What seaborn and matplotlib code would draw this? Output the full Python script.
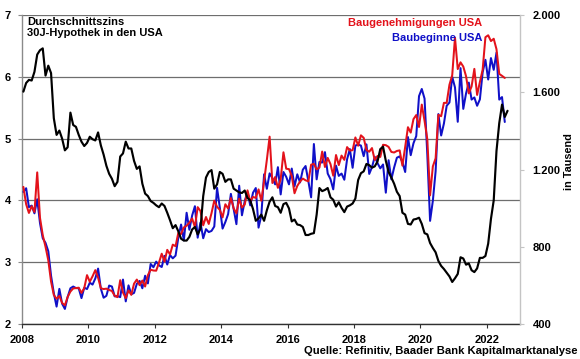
import numpy as np
import pandas as pd
import matplotlib
matplotlib.use("Agg")
import matplotlib.pyplot as plt
import seaborn as sns
from matplotlib.ticker import FuncFormatter

# ---------------- data (monthly, Jan 2008 ...) ----------------
starts = [
    1084, 1103, 1005, 1013, 973, 1046, 923, 844, 820, 777, 650, 560,
    490, 582, 505, 478, 540, 585, 594, 586, 585, 534, 588, 581,
    614, 604, 636, 687, 583, 536, 546, 599, 594, 543, 545, 539,
    630, 517, 600, 554, 561, 608, 623, 585, 650, 610, 711, 694,
    723, 704, 695, 753, 708, 757, 740, 754, 847, 915, 833, 976,
    888, 962, 1010, 847, 925, 844, 891, 876, 882, 905, 1105, 1003,
    894, 928, 969, 1074, 997, 917, 1116, 963, 1036, 1084, 1014, 1080,
    1104, 899, 962, 1175, 1100, 1180, 1155, 1123, 1212, 1071, 1187, 1162,
    1123, 1205, 1113, 1175, 1133, 1199, 1218, 1140, 1056, 1332, 1149, 1239,
    1236, 1290, 1179, 1150, 1097, 1220, 1167, 1179, 1147, 1253, 1306, 1209,
    1324, 1329, 1324, 1269, 1330, 1177, 1212, 1266, 1233, 1206, 1226, 1080,
    1248, 1149, 1210, 1261, 1268, 1238, 1187, 1368, 1274, 1336, 1373, 1580,
    1617, 1567, 1276, 934, 1038, 1191, 1487, 1376, 1438, 1530, 1547, 1680,
    1625, 1447, 1725, 1514, 1594, 1650, 1562, 1573, 1530, 1563, 1703, 1768,
    1666, 1777, 1716, 1805, 1562, 1575, 1446,
]
permits = [
    1110, 1020, 975, 1010, 980, 1185, 950, 860, 800, 730, 620, 550,
    531, 545, 509, 497, 540, 568, 584, 586, 588, 561, 586, 653,
    619, 647, 679, 640, 585, 581, 583, 576, 571, 546, 539, 627,
    563, 534, 574, 551, 609, 630, 601, 625, 594, 653, 681, 677,
    676, 717, 764, 723, 784, 760, 811, 803, 872, 866, 900, 909,
    925, 946, 902, 1005, 985, 911, 954, 918, 974, 1039, 1007, 991,
    952, 1020, 998, 1052, 999, 973, 1049, 1003, 1018, 1092, 1035, 1058,
    1053, 1097, 1038, 1140, 1250, 1370, 1130, 1161, 1105, 1150, 1289, 1204,
    1202, 1167, 1077, 1115, 1138, 1153, 1144, 1139, 1225, 1229, 1201, 1210,
    1293, 1213, 1260, 1228, 1168, 1275, 1223, 1272, 1250, 1316, 1298, 1300,
    1366, 1323, 1377, 1364, 1301, 1292, 1311, 1249, 1270, 1265, 1328, 1326,
    1317, 1291, 1288, 1296, 1299, 1220, 1317, 1419, 1391, 1461, 1482, 1420,
    1536, 1452, 1356, 1066, 1216, 1258, 1483, 1476, 1545, 1545, 1639, 1688,
    1883, 1720, 1755, 1733, 1683, 1594, 1630, 1721, 1586, 1653, 1717, 1885,
    1895, 1865, 1877, 1823, 1695, 1685, 1674,
]
rate = [
    5.76, 5.90, 5.95, 5.94, 6.08, 6.36, 6.43, 6.46, 6.02, 6.18, 6.06, 5.33,
    5.06, 5.13, 5.00, 4.81, 4.86, 5.42, 5.22, 5.19, 5.06, 4.95, 4.88, 4.93,
    5.03, 4.99, 4.97, 5.10, 4.89, 4.74, 4.56, 4.43, 4.35, 4.23, 4.30, 4.71,
    4.76, 4.95, 4.84, 4.84, 4.64, 4.51, 4.55, 4.27, 4.11, 4.07, 3.99, 3.96,
    3.92, 3.89, 3.95, 3.91, 3.80, 3.68, 3.55, 3.60, 3.50, 3.38, 3.35, 3.35,
    3.41, 3.53, 3.57, 3.45, 3.54, 4.07, 4.37, 4.46, 4.49, 4.19, 4.26, 4.46,
    4.43, 4.30, 4.34, 4.34, 4.19, 4.16, 4.13, 4.12, 4.16, 4.04, 4.00, 3.86,
    3.67, 3.71, 3.77, 3.67, 3.84, 3.98, 4.05, 3.91, 3.89, 3.80, 3.94, 3.96,
    3.87, 3.66, 3.69, 3.61, 3.60, 3.57, 3.44, 3.44, 3.46, 3.47, 3.77, 4.20,
    4.15, 4.17, 4.20, 4.05, 4.01, 3.90, 3.97, 3.88, 3.81, 3.90, 3.92, 3.95,
    4.03, 4.33, 4.44, 4.47, 4.59, 4.57, 4.53, 4.55, 4.63, 4.83, 4.87, 4.64,
    4.46, 4.37, 4.27, 4.14, 4.07, 3.80, 3.77, 3.62, 3.61, 3.69, 3.70, 3.72,
    3.62, 3.47, 3.45, 3.31, 3.23, 3.16, 3.02, 2.94, 2.89, 2.83, 2.77, 2.68,
    2.74, 2.81, 3.08, 3.06, 2.96, 2.98, 2.87, 2.84, 2.90, 3.07, 3.07, 3.10,
    3.30, 3.70, 4.00, 4.80, 5.25, 5.55, 5.35, 5.45,
]
start_year = 2008
x_ticks = [2008, 2010, 2012, 2014, 2016, 2018, 2020, 2022]
left_ticks = [2, 3, 4, 5, 6, 7]
right_ticks = [400, 800, 1200, 1600, 2000]

title_left = "Durchschnittszins\n30J-Hypothek in den USA"
label_permits = "Baugenehmigungen USA"
label_starts = "Baubeginne USA"
right_label = "in Tausend"
source = "Quelle: Refinitiv, Baader Bank Kapitalmarktanalyse"

# month positions (mid-month)
def months(n):
    return [start_year + (i + 0.5) / 12 for i in range(n)]

df_h = pd.DataFrame({"t": months(len(starts)), "starts": starts, "permits": permits})
df_r = pd.DataFrame({"t": months(len(rate)), "rate": rate})

# ---------------- styling ----------------
sns.set_theme(style="white")
plt.rcParams["font.family"] = ["Liberation Sans", "DejaVu Sans"]
plt.rcParams["font.weight"] = "bold"

W, H = 580, 359
fig = plt.figure(figsize=(W / 100, H / 100), dpi=100)
L, R, T, B = 22, 520, 15, 324
ax = fig.add_axes([L / W, (H - B) / H, (R - L) / W, (B - T) / H])
ax1 = ax.twinx()   # housing (right scale)
ax2 = ax.twinx()   # mortgage rate (left scale), drawn on top

RED = "#e3121b"
BLUE = "#1010c8"

sns.lineplot(data=df_h, x="t", y="starts", ax=ax1, color=BLUE, lw=1.45, legend=False)
sns.lineplot(data=df_h, x="t", y="permits", ax=ax1, color=RED, lw=1.45, legend=False)
sns.lineplot(data=df_r, x="t", y="rate", ax=ax2, color="black", lw=1.55, legend=False)

for a in (ax, ax1, ax2):
    a.set_xlim(2008, 2023)
    a.set_xlabel("")
    a.set_ylabel("")

ax.set_ylim(2, 7)
ax2.set_ylim(2, 7)
ax1.set_ylim(400, 2000)

# primary axis: left ticks, grid, x ticks
ax.set_yticks(left_ticks)
ax.set_yticklabels([str(v) for v in left_ticks])
ax.set_xticks(x_ticks)
ax.set_xticklabels([str(v) for v in x_ticks])
ax.grid(axis="y", color="#6e6e6e", lw=0.9)
ax.grid(axis="x", visible=False)
ax.set_axisbelow(True)
for s in ("top", "right"):
    ax.spines[s].set_visible(False)
ax.spines["left"].set_color("#8a8a8a")
ax.spines["left"].set_linewidth(1.0)
ax.spines["bottom"].set_color("#303030")
ax.spines["bottom"].set_linewidth(1.0)
ax.tick_params(axis="y", which="major", direction="out", length=3, width=0.8,
               color="#8a8a8a", pad=5, labelsize=8, labelcolor="black", left=True)
ax.tick_params(axis="x", which="major", direction="out", length=3, width=0.8,
               color="#303030", pad=5, labelsize=8, labelcolor="black", bottom=True)
for lab in ax.get_xticklabels() + ax.get_yticklabels():
    lab.set_fontweight("bold")

# right axis
ax1.set_yticks(right_ticks)
ax1.yaxis.set_major_formatter(FuncFormatter(lambda v, p: f"{int(v):,}".replace(",", ".")))
for s in ("top", "left", "bottom"):
    ax1.spines[s].set_visible(False)
ax1.spines["right"].set_color("#c4c4c4")
ax1.spines["right"].set_linewidth(1.0)
ax1.tick_params(axis="y", direction="out", length=3, width=0.8, color="#c4c4c4",
                pad=6, labelsize=8, labelcolor="black", right=True)
ax1.grid(False)
for lab in ax1.get_yticklabels():
    lab.set_fontweight("bold")

ax2.set_axis_off()

# texts
fig.text(27 / W, 1 - 17 / H, title_left, ha="left", va="top", fontsize=8,
         fontweight="bold", color="black", linespacing=1.1)
fig.text(482 / W, 1 - 26 / H, label_permits, ha="right", va="baseline",
         fontsize=8, fontweight="bold", color=RED)
fig.text(482 / W, 1 - 41 / H, label_starts, ha="right", va="baseline",
         fontsize=8, fontweight="bold", color=BLUE)
fig.text(569 / W, 1 - 162 / H, right_label, ha="center", va="center", rotation=90,
         fontsize=7.8, fontweight="bold", color="black")
fig.text(577 / W, 1 - 354 / H, source, ha="right", va="baseline",
         fontsize=8.1, fontweight="bold", color="black")

fig.savefig("out.png", dpi=100)
